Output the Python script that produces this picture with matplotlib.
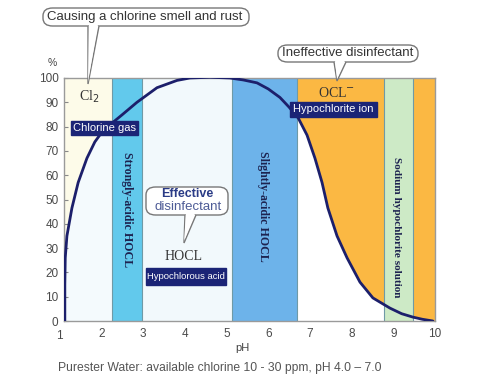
import matplotlib
matplotlib.use('Agg')
import matplotlib.pyplot as plt
from matplotlib.patches import Rectangle, FancyBboxPatch, Polygon

plt.rcParams['font.family'] = ['Liberation Sans', 'DejaVu Sans']

W, H = 482, 392

# HOCL share of available chlorine vs pH
ph = [1.12, 1.12, 1.13, 1.17, 1.29, 1.44, 1.65, 1.84, 2.00, 2.20, 2.49, 2.85, 3.33,
      3.81, 4.12, 4.60, 5.08, 5.40, 5.73, 6.00, 6.28, 6.50, 6.72, 6.93, 7.12, 7.29,
      7.43, 7.65, 7.89, 8.20, 8.51, 8.92, 9.20, 9.47, 9.70, 9.95]
hocl = [0, 15, 26, 35, 46.5, 57, 67, 73.7, 77.5, 80.7, 84.8, 90, 96,
        99, 100, 100.3, 100, 99.2, 98, 95.5, 92, 88, 83.5, 76.5, 67, 57,
        46.5, 35, 26, 16, 9.5, 5.3, 3, 1.6, 0.7, 0]

# zones: (start pH, end pH, colour)
zone_start = [1.10, 2.25, 2.97, 5.14, 6.69, 8.78, 9.48]
zone_end = [2.25, 2.97, 5.14, 6.69, 8.78, 9.48, 10.0]
zone_color = ['#fdfbe9', '#62c9ec', '#f2f9fc', '#6db3ea', '#fbb843', '#cdeac6', '#fbb843']
zone_edges = [2.25, 2.97, 5.14, 6.69, 8.78, 9.48]

yticks = [0, 10, 20, 30, 40, 50, 60, 70, 80, 90, 100]
xticks = [2, 3, 4, 5, 6, 7, 8, 9, 10]


def fx(x):
    return x / W


def fy(y):
    return 1 - y / H


fig = plt.figure(figsize=(W / 100, H / 100), dpi=100)
fig.patch.set_facecolor('white')
ax = fig.add_axes([fx(64), fy(321), (435 - 64) / W, (321 - 78) / H])
ax.set_xlim(1.1, 10)
ax.set_ylim(0, 100)

for s, e, c in zip(zone_start, zone_end, zone_color):
    ax.axvspan(s, e, color=c, lw=0, zorder=0)

# below the curve the Cl2 and OCL- zones are pale
for s, e, c in [(1.10, 2.25, '#f4fafd'), (6.69, 8.78, 'white'), (9.48, 10.0, 'white')]:
    f = ax.fill_between(ph, 0, hocl, color=c, lw=0, zorder=1)
    f.set_clip_path(Rectangle((s, 0), e - s, 100, transform=ax.transData))

for x in zone_edges:
    ax.axvline(x, color='#6f9aa6', lw=0.8, zorder=2)

ax.plot(ph, hocl, color='#1c1f6b', lw=2, zorder=4, solid_capstyle='round',
        solid_joinstyle='round')

for sp in ax.spines.values():
    sp.set_color('#9a9a9a')
    sp.set_linewidth(1)

ax.set_yticks(yticks)
ax.set_xticks(xticks)
ax.tick_params(axis='y', direction='in', length=3, color='#888', labelsize=8.5,
               labelcolor='#4a4a4a', pad=4)
ax.tick_params(axis='x', length=0, labelsize=8.5, labelcolor='#4a4a4a', pad=5)
ax.text(1.0, -3.5, '1', ha='center', va='top', fontsize=8.5, color='#4a4a4a',
        transform=ax.transData, clip_on=False)

fig.text(fx(52), fy(63), '%', ha='center', va='center', fontsize=7.5, color='#444')
fig.text(fx(242), fy(348), 'pH', ha='center', va='center', fontsize=8, color='#444')
fig.text(fx(58), fy(368), 'Purester Water: available chlorine 10 - 30 ppm, pH 4.0 \u2013 7.0',
         ha='left', va='center', fontsize=8.7, color='#555')

# chemistry labels
serif = 'Liberation Serif'
fig.text(fx(89), fy(97), r'Cl$_2$', ha='center', va='center', fontsize=10,
         family=serif, color='#333')
fig.text(fx(184), fy(256), 'HOCL', ha='center', va='center', fontsize=10,
         family=serif, color='#333')
fig.text(fx(337), fy(93), r'OCL$^{-}$', ha='center', va='center', fontsize=10,
         family=serif, color='#333')

for x, y, t, fs in [(127, 210, 'Strongly-acidic HOCL', 8.6),
                    (263, 206, 'Slightly-acidic HOCL', 8.6),
                    (397, 227, 'Sodium hypochlorite solution', 8.1)]:
    fig.text(fx(x), fy(y), t, rotation=-90, ha='center', va='center', fontsize=fs,
             family=serif, weight='bold', color='#1d2350')

# navy tags
for x0, x1, y0, y1, t, fs in [(71, 138, 121, 135, 'Chlorine gas', 8),
                              (290, 377, 102, 117, 'Hypochlorite ion', 8),
                              (146, 226, 268, 285, 'Hypochlorous acid', 6.8)]:
    fig.patches.append(Rectangle((fx(x0), fy(y1)), (x1 - x0) / W, (y1 - y0) / H,
                                 transform=fig.transFigure, color='#1b2476', zorder=5))
    fig.text(fx((x0 + x1) / 2), fy((y0 + y1) / 2), t, ha='center', va='center',
             fontsize=fs, color='white', zorder=6)


# speech bubbles
def bubble(x0, x1, y0, y1, tail):
    box = FancyBboxPatch((fx(x0), fy(y1)), (x1 - x0) / W, (y1 - y0) / H,
                         boxstyle='round,pad=0,rounding_size=0.02',
                         transform=fig.transFigure, facecolor='white',
                         edgecolor='#777', lw=1, zorder=7)
    fig.patches.append(box)
    tri = Polygon([(fx(p[0]), fy(p[1])) for p in tail], closed=False,
                  transform=fig.transFigure, facecolor='white', edgecolor='#777',
                  lw=1, zorder=8)
    fig.patches.append(tri)
    # cover the box edge under the tail
    fig.patches.append(Polygon([(fx(tail[0][0] + 1), fy(tail[0][1] - 1.5)),
                                (fx(tail[2][0] - 1), fy(tail[2][1] - 1.5)),
                                (fx(tail[1][0]), fy(tail[1][1] - 2))],
                               transform=fig.transFigure, facecolor='white',
                               edgecolor='none', zorder=9))


bubble(43, 249, 8, 26, [(88, 26), (88, 84), (99, 26)])
fig.text(fx(145), fy(17), 'Causing a chlorine smell and rust', ha='center', va='center',
         fontsize=9.5, color='#333', zorder=10)

bubble(278, 418, 45, 62, [(334, 62), (337, 81), (346, 62)])
fig.text(fx(348), fy(53.5), 'Ineffective disinfectant', ha='center', va='center',
         fontsize=9.5, color='#333', zorder=10)

bubble(146, 228, 187, 215, [(185, 215), (184, 243), (196, 215)])
fig.text(fx(187), fy(194), 'Effective', ha='center', va='center', fontsize=9,
         weight='bold', color='#2a3b86', zorder=10)
fig.text(fx(188), fy(207), 'disinfectant', ha='center', va='center', fontsize=9.5,
         color='#4d5b96', zorder=10)

fig.savefig('out.png', dpi=100)
